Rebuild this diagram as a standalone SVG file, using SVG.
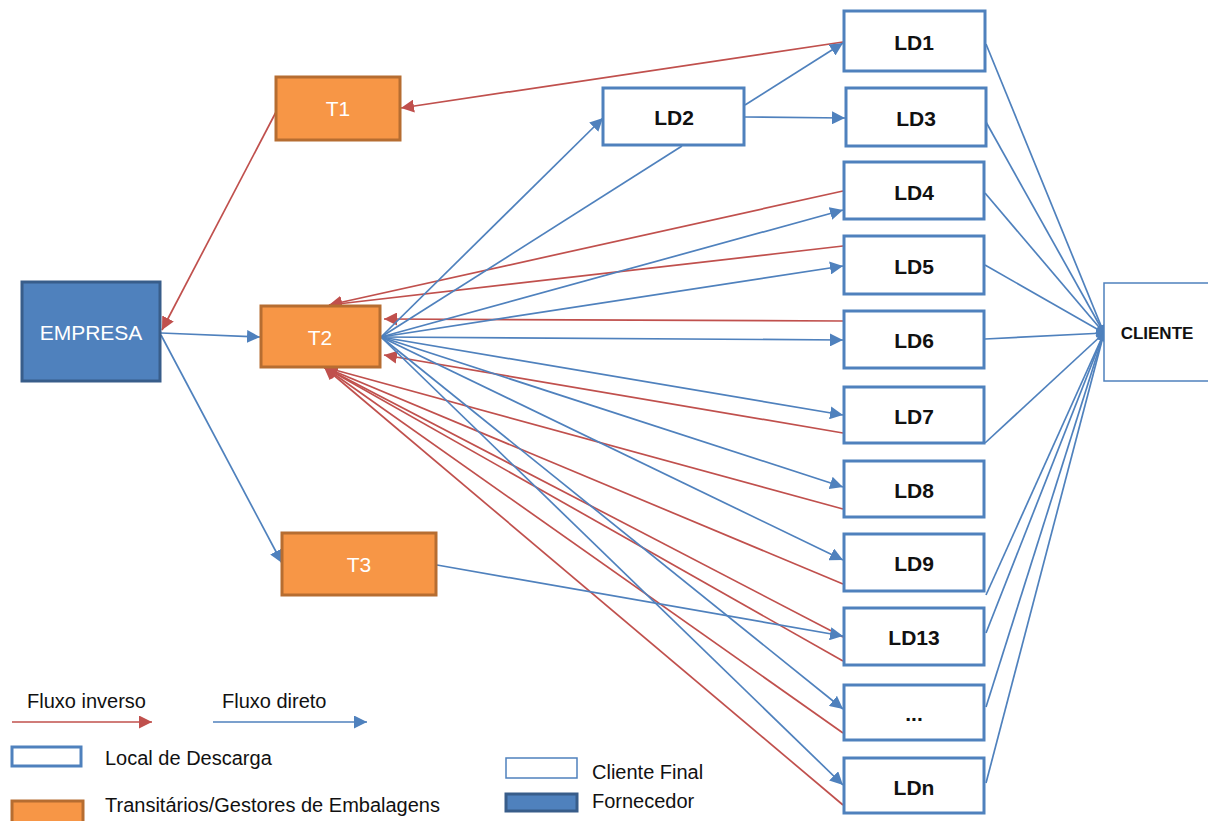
<svg xmlns="http://www.w3.org/2000/svg" width="1208" height="821" viewBox="0 0 1208 821">
<style>
.ld{fill:#fff;stroke:#4F81BD;stroke-width:3}
.tr{fill:#F79646;stroke:#B66D31;stroke-width:3}
.sup{fill:#4F81BD;stroke:#385D8A;stroke-width:3}
.cf{fill:#fff;stroke:#4F81BD;stroke-width:1.5}
.ldt{font-family:"Liberation Sans",Arial,sans-serif;font-size:21px;font-weight:bold;fill:#111;text-anchor:middle}
.trt{font-family:"Liberation Sans",Arial,sans-serif;font-size:21px;fill:#fff;text-anchor:middle}
.leg{font-family:"Liberation Sans",Arial,sans-serif;font-size:20px;fill:#111}
.r{stroke:#C0504D;stroke-width:1.7;fill:none}
.b{stroke:#4F81BD;stroke-width:1.7;fill:none}
</style>
<defs>
<marker id="ar" markerUnits="userSpaceOnUse" markerWidth="15" markerHeight="13" refX="13" refY="6.5" orient="auto"><path d="M0,0 L13,6.5 L0,13 z" fill="#C0504D"/></marker>
<marker id="ab" markerUnits="userSpaceOnUse" markerWidth="15" markerHeight="13" refX="13" refY="6.5" orient="auto"><path d="M0,0 L13,6.5 L0,13 z" fill="#4F81BD"/></marker>
<marker id="ac" markerUnits="userSpaceOnUse" markerWidth="10" markerHeight="10" refX="8" refY="5" orient="auto"><path d="M0,1 L8,5 L0,9 z" fill="#4F81BD"/></marker>
</defs>
<rect width="1208" height="821" fill="#fff"/>
<g id="connectors">
<line class="r" x1="843" y1="42" x2="401" y2="108" marker-end="url(#ar)"/>
<line class="r" x1="276" y1="112" x2="162" y2="330" marker-end="url(#ar)"/>
<line class="r" x1="843" y1="191" x2="329" y2="305" marker-end="url(#ar)"/>
<line class="r" x1="843" y1="246" x2="329" y2="305" marker-end="url(#ar)"/>
<line class="r" x1="843" y1="321" x2="384" y2="319" marker-end="url(#ar)"/>
<line class="r" x1="843" y1="433" x2="384" y2="355" marker-end="url(#ar)"/>
<line class="r" x1="843" y1="509" x2="324" y2="367" marker-end="url(#ar)"/>
<line class="r" x1="843" y1="584" x2="324" y2="367" marker-end="url(#ar)"/>
<line class="r" x1="843" y1="637" x2="324" y2="367" marker-end="url(#ar)"/>
<line class="r" x1="843" y1="661" x2="324" y2="367" marker-end="url(#ar)"/>
<line class="r" x1="843" y1="733" x2="324" y2="367" marker-end="url(#ar)"/>
<line class="r" x1="843" y1="805" x2="324" y2="367" marker-end="url(#ar)"/>
<line class="b" x1="161" y1="333" x2="260" y2="337" marker-end="url(#ab)"/>
<line class="b" x1="161" y1="335" x2="282" y2="563" marker-end="url(#ab)"/>
<line class="b" x1="381" y1="337" x2="603" y2="118" marker-end="url(#ab)"/>
<line class="b" x1="682" y1="146" x2="381" y2="337"/>
<line class="b" x1="745" y1="105" x2="843" y2="43" marker-end="url(#ab)"/>
<line class="b" x1="745" y1="117" x2="845" y2="118" marker-end="url(#ab)"/>
<line class="b" x1="381" y1="337" x2="843" y2="210" marker-end="url(#ab)"/>
<line class="b" x1="381" y1="337" x2="843" y2="266" marker-end="url(#ab)"/>
<line class="b" x1="381" y1="337" x2="843" y2="340" marker-end="url(#ab)"/>
<line class="b" x1="381" y1="337" x2="843" y2="415" marker-end="url(#ab)"/>
<line class="b" x1="381" y1="337" x2="843" y2="487" marker-end="url(#ab)"/>
<line class="b" x1="381" y1="337" x2="843" y2="560" marker-end="url(#ab)"/>
<line class="b" x1="381" y1="337" x2="843" y2="709" marker-end="url(#ab)"/>
<line class="b" x1="381" y1="337" x2="843" y2="785" marker-end="url(#ab)"/>
<line class="b" x1="437" y1="565" x2="843" y2="636" marker-end="url(#ab)"/>
<line class="b" x1="986" y1="44" x2="1104" y2="333" marker-end="url(#ac)"/>
<line class="b" x1="986" y1="122" x2="1104" y2="333" marker-end="url(#ac)"/>
<line class="b" x1="985" y1="193" x2="1104" y2="333" marker-end="url(#ac)"/>
<line class="b" x1="985" y1="265" x2="1104" y2="333" marker-end="url(#ac)"/>
<line class="b" x1="985" y1="339" x2="1104" y2="333" marker-end="url(#ac)"/>
<line class="b" x1="985" y1="443" x2="1104" y2="333" marker-end="url(#ac)"/>
<line class="b" x1="986" y1="595" x2="1104" y2="333" marker-end="url(#ac)"/>
<line class="b" x1="986" y1="633" x2="1104" y2="333" marker-end="url(#ac)"/>
<line class="b" x1="986" y1="707" x2="1104" y2="333" marker-end="url(#ac)"/>
<line class="b" x1="986" y1="783" x2="1104" y2="333" marker-end="url(#ac)"/>
</g>
<g id="empresa"><rect class="sup" x="22" y="282" width="138" height="99"/><text class="trt" x="91" y="340" font-size="20">EMPRESA</text></g>
<g id="t1"><rect class="tr" x="276" y="77" width="124" height="63"/><text class="trt" x="338" y="116">T1</text></g>
<g id="t2"><rect class="tr" x="261" y="306" width="119" height="61"/><text class="trt" x="320" y="345">T2</text></g>
<g id="t3"><rect class="tr" x="282" y="533" width="154" height="62"/><text class="trt" x="359" y="572">T3</text></g>
<g id="ld1"><rect class="ld" x="844" y="11" width="141" height="60"/><text class="ldt" x="914" y="50">LD1</text></g>
<g id="ld2"><rect class="ld" x="603" y="88" width="141" height="57"/><text class="ldt" x="674" y="125">LD2</text></g>
<g id="ld3"><rect class="ld" x="846" y="88" width="140" height="58"/><text class="ldt" x="916" y="126">LD3</text></g>
<g id="ld4"><rect class="ld" x="844" y="162" width="140" height="57"/><text class="ldt" x="914" y="200">LD4</text></g>
<g id="ld5"><rect class="ld" x="844" y="236" width="140" height="58"/><text class="ldt" x="914" y="274">LD5</text></g>
<g id="ld6"><rect class="ld" x="844" y="311" width="140" height="57"/><text class="ldt" x="914" y="348">LD6</text></g>
<g id="ld7"><rect class="ld" x="844" y="387" width="140" height="56"/><text class="ldt" x="914" y="424">LD7</text></g>
<g id="ld8"><rect class="ld" x="844" y="461" width="140" height="56"/><text class="ldt" x="914" y="498">LD8</text></g>
<g id="ld9"><rect class="ld" x="844" y="534" width="140" height="57"/><text class="ldt" x="914" y="571">LD9</text></g>
<g id="ld13"><rect class="ld" x="844" y="608" width="140" height="57"/><text class="ldt" x="914" y="645">LD13</text></g>
<g id="ldx"><rect class="ld" x="844" y="685" width="140" height="55"/><text class="ldt" x="914" y="721" font-weight="normal" font-size="18">...</text></g>
<g id="ldn"><rect class="ld" x="844" y="758" width="140" height="55"/><text class="ldt" x="914" y="795">LDn</text></g>
<g id="cliente"><rect class="cf" x="1104" y="283" width="110" height="98"/><text x="1157" y="339" font-family="Liberation Sans,Arial,sans-serif" font-size="17" font-weight="bold" fill="#111" text-anchor="middle">CLIENTE</text></g>
<g id="legend">
<text class="leg" x="27" y="708">Fluxo inverso</text>
<line class="r" x1="12" y1="722" x2="152" y2="722" marker-end="url(#ar)"/>
<text class="leg" x="222" y="708">Fluxo direto</text>
<line class="b" x1="213" y1="722" x2="367" y2="722" marker-end="url(#ab)"/>
<rect class="ld" x="12" y="747" width="69" height="19"/>
<text class="leg" x="105" y="765">Local de Descarga</text>
<rect class="tr" x="12" y="801" width="71" height="24"/>
<text class="leg" x="105" y="812">Transitários/Gestores de Embalagens</text>
<rect class="cf" x="506" y="758" width="71" height="20"/>
<text class="leg" x="592" y="779">Cliente Final</text>
<rect class="sup" x="506" y="794" width="71" height="17"/>
<text class="leg" x="592" y="808">Fornecedor</text>
</g>
</svg>
